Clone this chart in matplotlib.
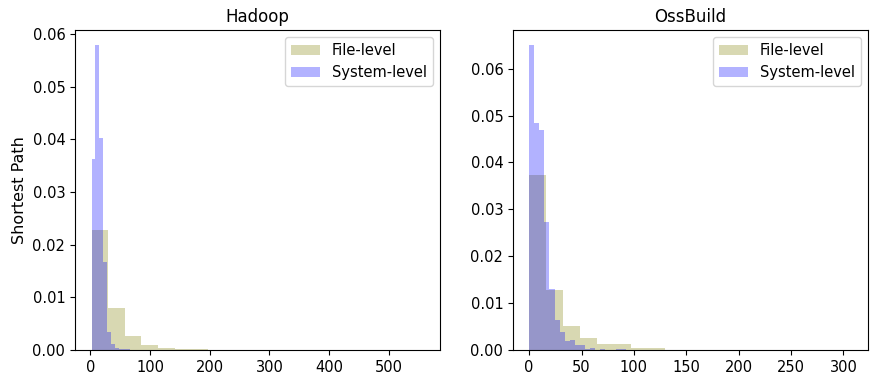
import numpy as np
import matplotlib
matplotlib.use("Agg")
from matplotlib import pyplot as plt

# Hadoop: density per bin
HADOOP_FILE_EDGES = np.linspace(2, 558, 21)
HADOOP_FILE = [0.0228, 0.0079, 0.0027, 0.00095, 0.0004, 0.0002, 0.0002,
               0.00005, 0.00004, 0.00003, 0.00002, 0.00002, 0.00001, 0.00001,
               0.00001, 0.0, 0.00001, 0.0, 0.0, 0.00001]
HADOOP_SYS_EDGES = np.linspace(2, 132, 21)
HADOOP_SYS = [0.0363, 0.0579, 0.0403, 0.0167, 0.0034, 0.0012, 0.0004,
              0.0002, 0.0001, 0.0001, 0.00005, 0.00005, 0.00003, 0.00002,
              0.00002, 0.00001, 0.00001, 0.00001, 0.0, 0.00001]

# OssBuild
OSS_FILE_EDGES = np.linspace(0, 308, 20)
OSS_FILE = [0.0374, 0.0129, 0.0052, 0.0026, 0.0013, 0.0013, 0.0004, 0.0004,
            0.00005, 0.00004, 0.00003, 0.00002, 0.00002, 0.00001, 0.00001,
            0.00001, 0.0, 0.0, 0.00001]
OSS_SYS_EDGES = np.linspace(0, 97, 21)
OSS_SYS = [0.065, 0.0485, 0.047, 0.0274, 0.013, 0.0063, 0.0038, 0.0020,
           0.0021, 0.0010, 0.0011, 0.0003, 0.0004, 0.0001, 0.0003, 0.0001,
           0.0001, 0.0003, 0.0003, 0.0001]

PANELS = [
    ("Hadoop", HADOOP_FILE_EDGES, HADOOP_FILE, HADOOP_SYS_EDGES, HADOOP_SYS),
    ("OssBuild", OSS_FILE_EDGES, OSS_FILE, OSS_SYS_EDGES, OSS_SYS),
]

fig = plt.figure(figsize=(8.72, 3.78), dpi=100)
axes = [
    fig.add_axes([0.086, 0.0741, 0.4186, 0.8466]),
    fig.add_axes([0.5883, 0.0741, 0.4071, 0.8466]),
]

for ax, (title, f_edges, f_vals, s_edges, s_vals) in zip(axes, PANELS):
    ax.hist(f_edges[:-1], bins=f_edges, weights=f_vals,
            color="olive", alpha=0.3, label="File-level")
    ax.hist(s_edges[:-1], bins=s_edges, weights=s_vals,
            color="blue", alpha=0.3, label="System-level")
    ax.set_title(title, fontsize=12)
    ax.tick_params(labelsize=10.5)
    ax.legend(loc="upper right", fontsize=10.5)

axes[0].set_ylabel("Shortest Path", fontsize=11.5)

fig.savefig("out.png", dpi=100)
